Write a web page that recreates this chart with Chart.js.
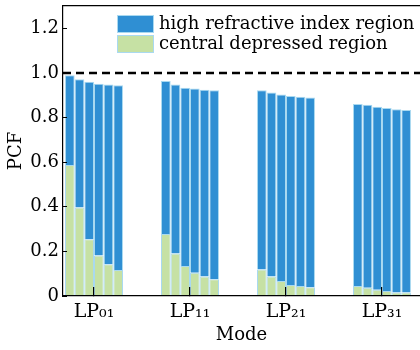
<!DOCTYPE html>
<html>
<head>
<meta charset="utf-8">
<script src="https://cdn.jsdelivr.net/npm/chart.js@4/dist/chart.umd.min.js"></script>
<style>
  html, body { margin: 0; padding: 0; background: #fff; }
  #wrap { width: 420px; height: 350px; position: relative; }
</style>
</head>
<body>
<div id="wrap"><canvas id="pcf-chart"></canvas></div>
<script>
// --- Data ---
const modes = ['LP₀₁', 'LP₁₁', 'LP₂₁', 'LP₃₁'];
const modePositions = [1, 2, 3, 4];

// central depressed region share, 6 bars per mode
const centralLP01 = [0.587, 0.397, 0.254, 0.181, 0.142, 0.116];
const centralLP11 = [0.278, 0.191, 0.134, 0.104, 0.087, 0.075];
const centralLP21 = [0.119, 0.087, 0.067, 0.049, 0.045, 0.039];
const centralLP31 = [0.045, 0.037, 0.028, 0.022, 0.016, 0.016];

// high refractive index region share, 6 bars per mode
const highLP01 = [0.403, 0.575, 0.706, 0.770, 0.806, 0.829];
const highLP11 = [0.686, 0.757, 0.800, 0.826, 0.838, 0.847];
const highLP21 = [0.803, 0.825, 0.836, 0.847, 0.848, 0.851];
const highLP31 = [0.816, 0.820, 0.820, 0.821, 0.821, 0.818];

const yTicks = [0, 0.2, 0.4, 0.6, 0.8, 1.0, 1.2];
const referenceLevel = 1.0;

(function () {
    const canvasElement = document.getElementById('pcf-chart');

    const blue = '#2f8fd3';
    const green = '#c6e1a4';
    const edge = '#a9d9f0';
    const fontFamily = '"DejaVu Serif", "Liberation Serif", serif';

    const xMin = 0.677;
    const xMax = 4.396;

    const central = [centralLP01, centralLP11, centralLP21, centralLP31];
    const high = [highLP01, highLP11, highLP21, highLP31];

    // one stack per bar slot, green at the bottom and blue on top
    const datasets = [];
    for (let j = 0; j < 6; j++) {
        datasets.push({
            label: 'central depressed region',
            data: modePositions.map((x, i) => ({ x: x, y: central[i][j] })),
            backgroundColor: green,
            borderColor: edge,
            borderWidth: 1,
            stack: 'bar' + j,
            order: 2
        });
        datasets.push({
            label: 'high refractive index region',
            data: modePositions.map((x, i) => ({ x: x, y: high[i][j] })),
            backgroundColor: blue,
            borderColor: edge,
            borderWidth: 1,
            stack: 'bar' + j,
            order: 2
        });
    }

    // dashed line at PCF = 1
    datasets.push({
        type: 'line',
        label: 'reference',
        data: [{ x: xMin, y: referenceLevel }, { x: xMax, y: referenceLevel }],
        borderColor: '#000',
        borderWidth: 2.5,
        borderDash: [8, 5],
        pointRadius: 0,
        fill: false,
        order: 1
    });

    // legend drawn inside the plot, top right
    const insideLegend = {
        id: 'insideLegend',
        afterDraw(chart) {
            const ctx = chart.ctx;
            const area = chart.chartArea;
            const items = [
                { text: 'high refractive index region', color: blue },
                { text: 'central depressed region', color: green }
            ];
            ctx.save();
            ctx.font = '18px ' + fontFamily;
            ctx.textBaseline = 'middle';
            items.forEach((item, k) => {
                const bx = area.left + 54;
                const by = area.top + 9 + k * 20;
                ctx.fillStyle = item.color;
                ctx.fillRect(bx, by, 37, 18);
                ctx.strokeStyle = edge;
                ctx.lineWidth = 1;
                ctx.strokeRect(bx + 0.5, by + 0.5, 36, 17);
                ctx.fillStyle = '#000';
                ctx.fillText(item.text, bx + 42, by + 9);
            });
            ctx.restore();
        }
    };

    const config = {
        type: 'bar',
        data: { datasets: datasets },
        options: {
            responsive: true,
            maintainAspectRatio: false,
            animation: false,
            categoryPercentage: 0.604,
            barPercentage: 1.0,
            layout: { padding: { top: 6, left: 0, right: 0, bottom: 4 } },
            scales: {
                x: {
                    type: 'linear',
                    position: 'bottom',
                    offset: false,
                    min: xMin,
                    max: xMax,
                    border: { display: true, color: '#000', width: 1.2, z: 1 },
                    grid: { drawOnChartArea: false, offset: false, color: '#000', tickLength: -9, lineWidth: 1.2, z: 1 },
                    afterFit: function (scale) {
                        scale.height = 50;
                    },
                    ticks: {
                        stepSize: 1,
                        includeBounds: false,
                        autoSkip: false,
                        maxRotation: 0,
                        padding: 14,
                        color: '#000',
                        font: { family: fontFamily, size: 19 },
                        callback: function (value) {
                            const idx = modePositions.indexOf(value);
                            return idx >= 0 ? modes[idx] : '';
                        }
                    },
                    title: {
                        display: true,
                        text: 'Mode',
                        color: '#000',
                        font: { family: fontFamily, size: 18 },
                        padding: { top: 0, bottom: 0 }
                    }
                },
                xTop: {
                    type: 'linear',
                    position: 'top',
                    min: 0,
                    max: 1,
                    border: { display: true, color: '#000', width: 1.2 },
                    grid: { display: false, drawTicks: false },
                    ticks: { display: false }
                },
                y: {
                    stacked: true,
                    min: 0,
                    max: 1.3,
                    afterBuildTicks: function (scale) {
                        scale.ticks = yTicks.map(v => ({ value: v }));
                    },
                    afterFit: function (scale) {
                        scale.width = 63;
                        scale.paddingTop = 0;
                        scale.paddingBottom = 0;
                    },
                    border: { display: true, color: '#000', width: 1.2, z: 1 },
                    grid: { drawOnChartArea: false, color: '#000', tickLength: -4, z: 1 },
                    ticks: {
                        padding: 8,
                        color: '#000',
                        font: { family: fontFamily, size: 18 },
                        callback: function (value) {
                            return value === 0 ? '0' : value.toFixed(1);
                        }
                    },
                    title: {
                        display: true,
                        text: 'PCF',
                        color: '#000',
                        font: { family: fontFamily, size: 18 },
                        padding: { top: 6, bottom: 0 }
                    }
                }
            },
            plugins: {
                legend: { display: false },
                tooltip: { enabled: false }
            }
        },
        plugins: [insideLegend]
    };

    new Chart(canvasElement, config);
})();
</script>
</body>
</html>
